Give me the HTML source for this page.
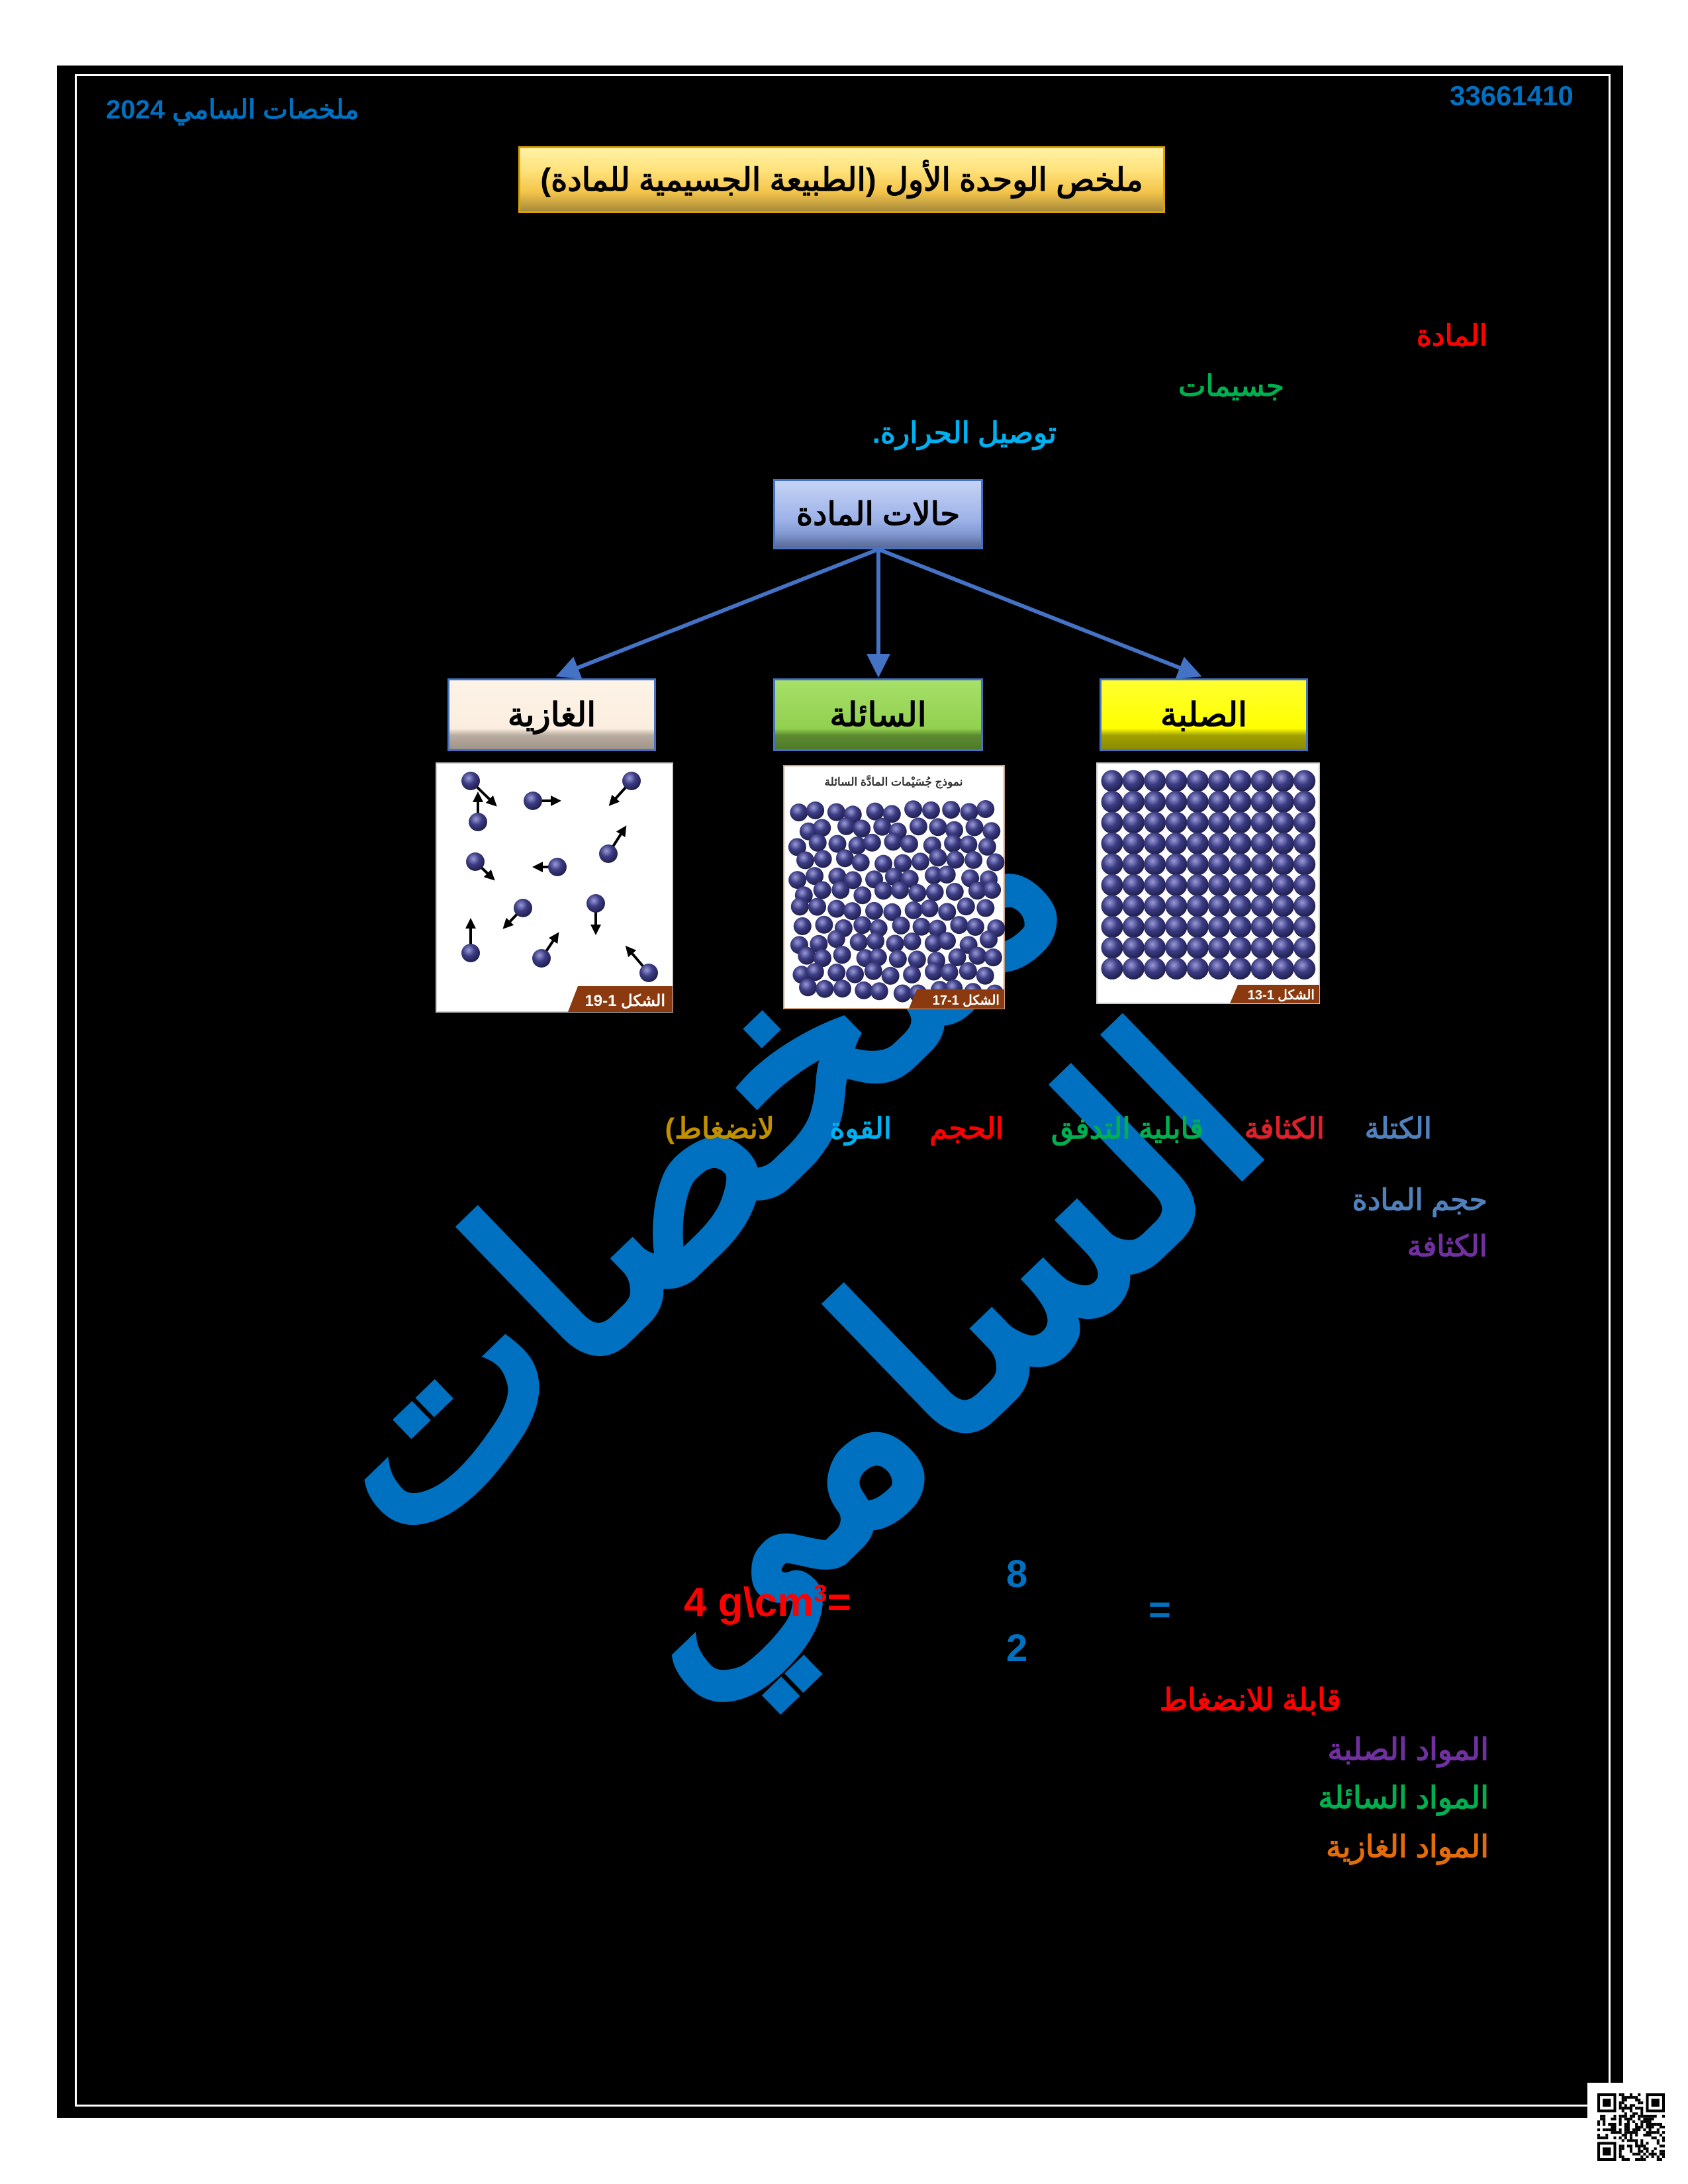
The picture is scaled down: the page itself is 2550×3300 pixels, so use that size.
<!DOCTYPE html>
<html><head><meta charset="utf-8">
<style>
html,body{margin:0;padding:0;background:#fff;}
body{width:2550px;height:3300px;position:relative;overflow:hidden;font-family:"Liberation Sans","Noto Sans CJK SC",sans-serif;}
.t{position:absolute;font-weight:bold;white-space:nowrap;direction:rtl;line-height:1;}
.box{position:absolute;box-sizing:border-box;display:flex;align-items:center;justify-content:center;font-weight:bold;color:#000;direction:rtl;}
</style></head><body>
<div style="position:absolute;left:86px;top:99px;width:2366px;height:3101px;background:#000"></div>
<div style="position:absolute;left:113px;top:112px;width:2320px;height:3071px;border:3px solid #fff;box-sizing:border-box"></div>

<!-- watermark -->
<div class="t" style="left:580px;top:1420px;width:1300px;text-align:center;font-size:390px;color:#0070c0;transform:rotate(-44deg);transform-origin:center;line-height:1.2">ملخصات<br>السامي</div>

<div class="t" style="left:2190px;top:124px;font-size:42px;color:#0070c0;direction:ltr">33661410</div>
<div class="t" style="left:160px;top:146px;font-size:40px;color:#0070c0">ملخصات السامي 2024</div>

<div class="box" style="left:783px;top:221px;width:977px;height:101px;border:3px solid #d9a400;background:linear-gradient(#fff2a8,#ffe27a 35%,#f3c44a 70%,#a88a3a);font-size:48px">ملخص الوحدة الأول (الطبيعة الجسيمية للمادة)</div>

<div class="t" style="right:303px;top:486px;font-size:44px;color:#ff0000">المادة</div>
<div class="t" style="right:610px;top:562px;font-size:44px;color:#00b050">جسيمات</div>
<div class="t" style="right:954px;top:633px;font-size:44px;color:#00b0f0">توصيل الحرارة.</div>

<div class="box" style="left:1168px;top:724px;width:317px;height:106px;border:3px solid #4472c4;background:linear-gradient(#c5d3f5,#9db1e8 60%,#8097d0 80%,#5a6a98);font-size:48px">حالات المادة</div>

<svg style="position:absolute;left:0;top:0" width="2550" height="3300">
<defs><marker id="a" markerWidth="6" markerHeight="6" refX="5" refY="3" orient="auto" markerUnits="strokeWidth"><path d="M0,0 L6,3 L0,6 z" fill="#4472c4"/></marker></defs>
<g stroke="#4472c4" stroke-width="6" fill="none">
<line x1="1327" y1="830" x2="845" y2="1020" marker-end="url(#a)"/>
<line x1="1327" y1="830" x2="1327" y2="1018" marker-end="url(#a)"/>
<line x1="1327" y1="830" x2="1810" y2="1020" marker-end="url(#a)"/>
</g></svg>

<div class="box" style="left:676px;top:1025px;width:315px;height:110px;border:3px solid #4472c4;background:linear-gradient(#fdf3e6,#fbeee0 70%,#b8aca0 80%,#a09488);font-size:50px">الغازية</div>
<div class="box" style="left:1168px;top:1025px;width:317px;height:110px;border:3px solid #4472c4;background:linear-gradient(#a6e068,#92d050 70%,#5c8a30 80%,#4f7a28);font-size:50px">السائلة</div>
<div class="box" style="left:1661px;top:1025px;width:315px;height:110px;border:3px solid #4472c4;background:linear-gradient(#ffff30,#ffff00 70%,#a0a000 80%,#8c8c00);font-size:50px">الصلبة</div>

<svg id="imgs" style="position:absolute;left:0;top:0" width="2550" height="3300">
<defs><radialGradient id="g" cx="40%" cy="35%" r="65%"><stop offset="0" stop-color="#9a9ad8"/><stop offset="0.5" stop-color="#3c3c84"/><stop offset="1" stop-color="#20204e"/></radialGradient>
<marker id="b" markerWidth="4" markerHeight="4" refX="2" refY="2" orient="auto" markerUnits="strokeWidth"><path d="M0,0 L4,2 L0,4 z" fill="#000"/></marker></defs>
<rect x="659" y="1153" width="357" height="376" fill="#fff" stroke="#ccc" stroke-width="2"/>
<rect x="1184" y="1157" width="333" height="367" fill="#fff" stroke="#c8a080" stroke-width="2"/>
<rect x="1657" y="1153" width="336" height="363" fill="#fff" stroke="#ccc" stroke-width="2"/>
<text x="1350" y="1187" font-size="17" font-weight="bold" text-anchor="middle" fill="#333" direction="rtl" font-family="Liberation Sans">نموذج جُسَيْمات المادَّة السائلة</text>
<g id="solid"></g><g id="liq"></g><g id="gas" stroke="#000" stroke-width="4"></g>
<polygon points="873,1490 1016,1490 1016,1529 858,1529" fill="#8b3a10"/>
<text x="1005" y="1520" font-size="24" font-weight="bold" fill="#fff" text-anchor="end" font-family="Liberation Sans">الشكل 1-19</text>
<polygon points="1385,1495 1517,1495 1517,1524 1373,1524" fill="#8b3a10"/>
<text x="1510" y="1518" font-size="20" font-weight="bold" fill="#fff" text-anchor="end" font-family="Liberation Sans">الشكل 1-17</text>
<polygon points="1870,1488 1993,1488 1993,1516 1858,1516" fill="#8b3a10"/>
<text x="1986" y="1510" font-size="20" font-weight="bold" fill="#fff" text-anchor="end" font-family="Liberation Sans">الشكل 1-13</text>
</svg>

<div class="t" style="right:387px;top:1684px;font-size:44px;color:#4f81bd">الكتلة</div>
<div class="t" style="right:549px;top:1684px;font-size:44px;color:#e0202a">الكثافة</div>
<div class="t" style="right:732px;top:1684px;font-size:44px;color:#00b050">قابلية التدفق</div>
<div class="t" style="right:1034px;top:1684px;font-size:44px;color:#ff0000">الحجم</div>
<div class="t" style="right:1203px;top:1684px;font-size:44px;color:#00b0f0">القوة</div>
<div class="t" style="right:1380px;top:1684px;font-size:44px;color:#c09000">لانضغاط)</div>

<div class="t" style="right:303px;top:1792px;font-size:44px;color:#4f81bd">حجم المادة</div>
<div class="t" style="right:303px;top:1862px;font-size:44px;color:#7030a0">الكثافة</div>

<div class="t" style="left:1033px;top:2390px;font-size:62px;color:#ff0000;direction:ltr">4 g\cm<sup style="font-size:36px;vertical-align:22px">3</sup>=</div>
<div class="t" style="left:1520px;top:2350px;font-size:58px;color:#0070c0;direction:ltr">8</div>
<div class="t" style="left:1520px;top:2462px;font-size:58px;color:#0070c0;direction:ltr">2</div>
<div class="t" style="left:1735px;top:2404px;font-size:58px;color:#0070c0;direction:ltr">=</div>

<div class="t" style="right:524px;top:2545px;font-size:46px;color:#ff0000">قابلة للانضغاط</div>
<div class="t" style="right:301px;top:2620px;font-size:46px;color:#7030a0">المواد الصلبة</div>
<div class="t" style="right:301px;top:2693px;font-size:46px;color:#00b050">المواد السائلة</div>
<div class="t" style="right:301px;top:2767px;font-size:46px;color:#e36c09">المواد الغازية</div>

<div style="position:absolute;left:2398px;top:3147px;width:152px;height:153px;background:#fff"></div>
<svg id="qr" style="position:absolute;left:2413px;top:3163px" width="102" height="102"></svg>

<script>
var NS="http://www.w3.org/2000/svg";
function c(p,x,y,r){var e=document.createElementNS(NS,"circle");e.setAttribute("cx",x);e.setAttribute("cy",y);e.setAttribute("r",r);e.setAttribute("fill","url(#g)");p.appendChild(e);}
var s=document.getElementById("solid");
for(var i=0;i<10;i++)for(var j=0;j<10;j++)c(s,1680+i*32.3,1180+j*31.5,16.5);
var l=document.getElementById("liq");var seed=7;function rnd(){seed=(seed*9301+49297)%233280;return seed/233280;}
for(var j=0;j<12;j++)for(var i=0;i<11;i++){var x=1207+i*28.5+(j%2)*10+(rnd()-0.5)*10;var y=1227+j*24.5+(rnd()-0.5)*10;if(x<1505)c(l,x,y,13.5);}
var gp=document.getElementById("gas");
var G=[[711,1180,745,1213],[954,1180,925,1212],[805,1210,840,1210],[722,1242,722,1204],[718,1302,742,1325],[842,1310,812,1310],[919,1290,942,1254],[790,1372,765,1398],[711,1440,711,1395],[900,1365,900,1405],[818,1448,840,1415],[980,1470,950,1435]];
G.forEach(function(a){var ln=document.createElementNS(NS,"line");ln.setAttribute("x1",a[0]);ln.setAttribute("y1",a[1]);ln.setAttribute("x2",a[2]);ln.setAttribute("y2",a[3]);ln.setAttribute("marker-end","url(#b)");gp.appendChild(ln);c(gp.parentNode,a[0],a[1],14);});
var q=document.getElementById("qr");var n=25,u=102/n;function sq(x,y,w,h,f){var r=document.createElementNS(NS,"rect");r.setAttribute("x",x*u);r.setAttribute("y",y*u);r.setAttribute("width",w*u);r.setAttribute("height",h*u);r.setAttribute("fill",f);q.appendChild(r);}
seed=3;for(var y=0;y<n;y++)for(var x=0;x<n;x++){if(rnd()<0.5)sq(x,y,1,1,"#000");}
[[0,0],[18,0],[0,18]].forEach(function(p){sq(p[0],p[1],7,7,"#000");sq(p[0]+1,p[1]+1,5,5,"#fff");sq(p[0]+2,p[1]+2,3,3,"#000");sq(p[0]===0?7:17,p[1],1,8,"#fff");sq(p[0],p[1]===0?7:17,8,1,"#fff");});
</script>
</body></html>
